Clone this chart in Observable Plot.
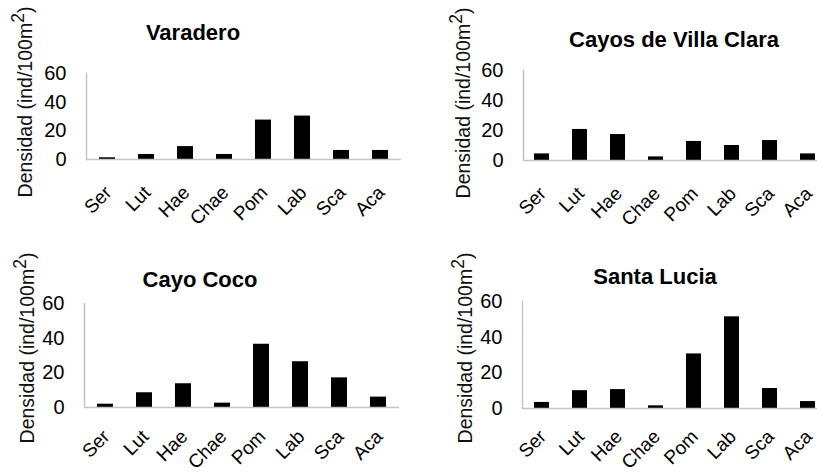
<!DOCTYPE html>
<html>
<head>
<meta charset="utf-8">
<script src="https://cdn.jsdelivr.net/npm/d3@7"></script>
<script src="https://cdn.jsdelivr.net/npm/@observablehq/plot@0.6"></script>
<style>
  html, body { margin: 0; padding: 0; background: #fff; overflow: hidden; }
  #root { position: relative; width: 817px; height: 474px; overflow: hidden; font-family: "Liberation Sans", Arial, sans-serif; }
  .panel { position: absolute; }
  .title { position: absolute; transform: translate(-50%, -50%); font-weight: bold; font-size: 22px; white-space: nowrap; color: #000; }
  .ylab { position: absolute; transform: translate(-50%, -50%) rotate(-90deg); font-size: 19.5px; white-space: nowrap; color: #111; }
  .ylab sup { font-size: 0.9em; vertical-align: 0.45em; line-height: 0; }
</style>
</head>
<body>
<div id="root"></div>
<script>
const categories = ["Ser", "Lut", "Hae", "Chae", "Pom", "Lab", "Sca", "Aca"];
const varadero   = [1.2, 3.5, 9.0, 3.5, 27.5, 30.3, 6.3, 6.3];
const villaClara = [4.4, 20.7, 17.3, 2.4, 12.7, 10.0, 13.3, 4.4];
const cayoCoco   = [1.9, 8.5, 13.7, 2.5, 36.5, 26.4, 17.1, 6.0];
const santaLucia = [3.4, 10.0, 10.6, 1.5, 30.6, 51.4, 11.2, 3.9];
const yTicks = [0, 20, 40, 60];
const titles = ["Varadero", "Cayos de Villa Clara", "Cayo Coco", "Santa Lucia"];
const yLabel = "Densidad (ind/100m";

const panels = [
  {title: titles[0], values: varadero,   left: 0,   top: 0,   width: 408, height: 237, mt: 73, mb: 78, ml: 86,  mr: 7,  pad: 30, tx: 193, ty: 33,  lx: 25,  ly: 102},
  {title: titles[1], values: villaClara, left: 408, top: 0,   width: 419, height: 237, mt: 70, mb: 77, ml: 115, mr: 0,  pad: 30, tx: 674, ty: 40,  lx: 463, ly: 103},
  {title: titles[2], values: cayoCoco,   left: 0,   top: 237, width: 408, height: 237, mt: 66, mb: 67, ml: 84,  mr: 9,  pad: 26, tx: 200, ty: 280, lx: 27,  ly: 348},
  {title: titles[3], values: santaLucia, left: 408, top: 237, width: 420, height: 237, mt: 64, mb: 66, ml: 114, mr: 0,  pad: 25, tx: 655, ty: 277, lx: 465, ly: 348}
];

const root = document.getElementById("root");

for (const p of panels) {
  const data = categories.map((c, i) => ({cat: c, value: p.values[i]}));
  const chart = Plot.plot({
    width: p.width,
    height: p.height,
    marginTop: p.mt,
    marginBottom: p.mb,
    marginLeft: p.ml,
    marginRight: p.mr,
    style: {fontFamily: "'Liberation Sans', Arial, sans-serif", fontSize: "20px", color: "#000", background: "transparent", overflow: "visible"},
    x: {domain: categories, paddingInner: 0.6, paddingOuter: 0.3},
    y: {domain: [0, 60]},
    marks: [
      Plot.barY(data, {x: "cat", y: "value", fill: "#000"}),
      Plot.ruleY([0], {stroke: "#c4c4c4", strokeWidth: 1.5}),
      Plot.frame({anchor: "left", stroke: "#c4c4c4", strokeWidth: 1.5}),
      Plot.axisY({ticks: yTicks, tickSize: 0, tickPadding: 20, label: null, fontSize: 20}),
      Plot.axisX({tickRotate: -45, tickSize: 0, tickPadding: p.pad, dx: 1, label: null, fontSize: 19})
    ]
  });
  chart.classList.add("panel");
  chart.style.left = p.left + "px";
  chart.style.top = p.top + "px";
  root.appendChild(chart);

  const t = document.createElement("div");
  t.className = "title";
  t.textContent = p.title;
  t.style.left = p.tx + "px";
  t.style.top = p.ty + "px";
  root.appendChild(t);

  const l = document.createElement("div");
  l.className = "ylab";
  l.innerHTML = yLabel + "<sup>2</sup>)";
  l.style.left = p.lx + "px";
  l.style.top = p.ly + "px";
  root.appendChild(l);
}
</script>
</body>
</html>
